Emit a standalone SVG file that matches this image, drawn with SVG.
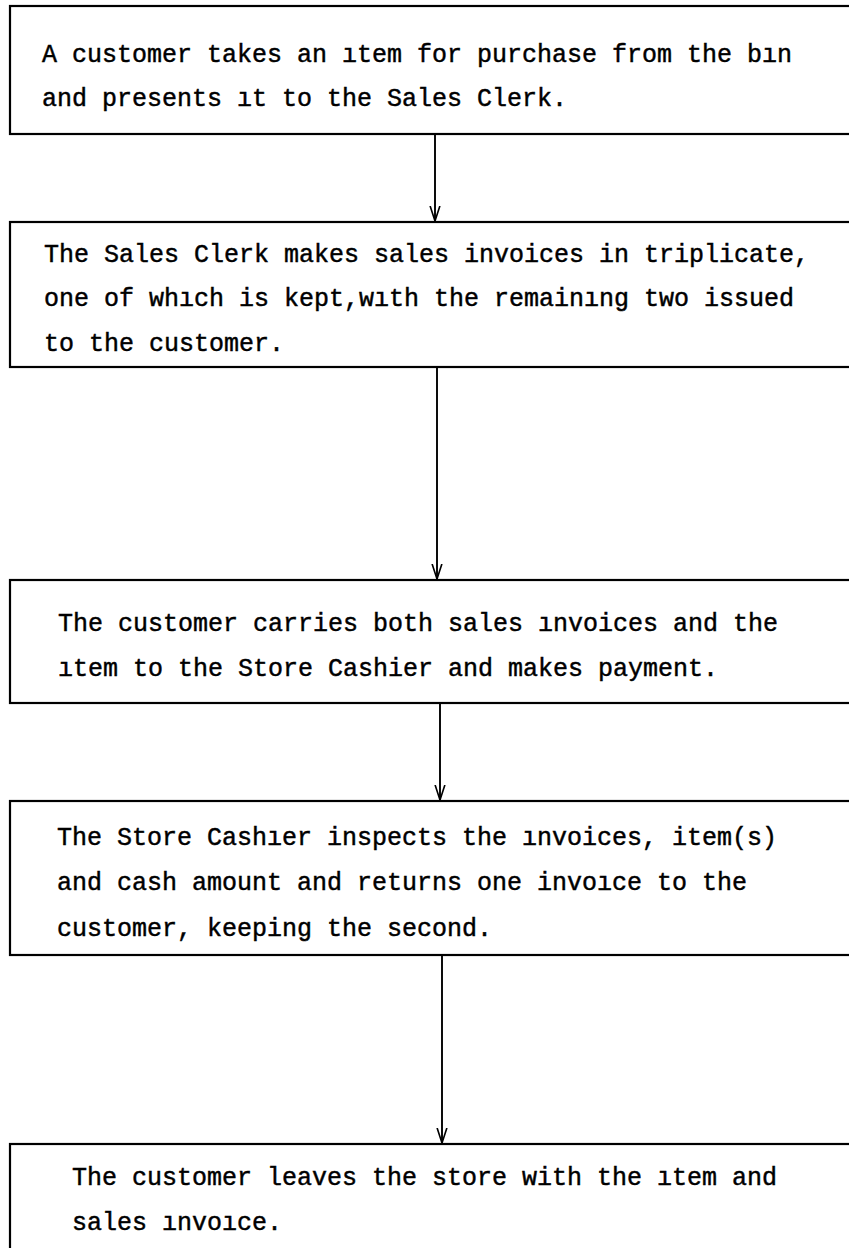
<svg xmlns="http://www.w3.org/2000/svg" width="849" height="1248" viewBox="0 0 849 1248">
  <style>
    .box { fill: #fff; stroke: #000; stroke-width: 2.2; }
    .txt { font-family: "Liberation Mono", "Courier New", monospace; font-size: 25px; fill: #000; stroke: #000; stroke-width: 0.45; }
    .link { fill: none; stroke: #000; stroke-width: 1.9; }
  </style>
  <defs>
    <marker id="vhead" markerUnits="userSpaceOnUse" markerWidth="16" markerHeight="24" refX="17" refY="6" orient="auto" viewBox="0 0 18 12">
      <polyline points="0,0.5 17,6 0,11.5" fill="none" stroke="#000" stroke-width="1.8"/>
    </marker>
  </defs>
  <rect width="849" height="1248" fill="#fff"/>

  <g id="step1">
    <rect class="box" x="10" y="6" width="860" height="128"/>
    <text class="txt" x="42" y="62">A customer takes an ıtem for purchase from the bın</text>
    <text class="txt" x="42" y="106">and presents ıt to the Sales Clerk.</text>
  </g>

  <g id="step2">
    <rect class="box" x="10" y="222" width="860" height="145"/>
    <text class="txt" x="44" y="262">The Sales Clerk makes sales invoices in triplicate,</text>
    <text class="txt" x="44" y="306">one of whıch is kept,wıth the remainıng two issued</text>
    <text class="txt" x="44" y="351">to the customer.</text>
  </g>

  <g id="step3">
    <rect class="box" x="10" y="580" width="860" height="123"/>
    <text class="txt" x="58" y="631">The customer carries both sales ınvoices and the</text>
    <text class="txt" x="58" y="676">ıtem to the Store Cashier and makes payment.</text>
  </g>

  <g id="step4">
    <rect class="box" x="10" y="801" width="860" height="154"/>
    <text class="txt" x="57" y="845">The Store Cashıer inspects the ınvoices, item(s)</text>
    <text class="txt" x="57" y="890">and cash amount and returns one invoıce to the</text>
    <text class="txt" x="57" y="936">customer, keeping the second.</text>
  </g>

  <g id="step5">
    <rect class="box" x="10" y="1144" width="860" height="140"/>
    <text class="txt" x="72" y="1185">The customer leaves the store with the ıtem and</text>
    <text class="txt" x="72" y="1230">sales ınvoıce.</text>
  </g>

  <g id="connectors">
    <line class="link" x1="435" y1="134" x2="435" y2="221" marker-end="url(#vhead)"/>
    <line class="link" x1="437" y1="367" x2="437" y2="579" marker-end="url(#vhead)"/>
    <line class="link" x1="440" y1="703" x2="440" y2="800" marker-end="url(#vhead)"/>
    <line class="link" x1="442" y1="955" x2="442" y2="1143" marker-end="url(#vhead)"/>
  </g>
</svg>
